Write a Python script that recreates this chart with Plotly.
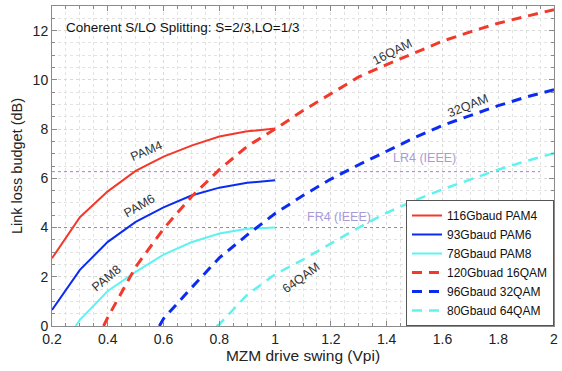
import plotly.graph_objects as go

# ---- data ----
pam4_x = [0.2, 0.3, 0.4, 0.5, 0.6, 0.7, 0.8, 0.9, 1.0]
pam4_y = [2.75, 4.42, 5.47, 6.30, 6.88, 7.33, 7.70, 7.91, 8.02]

pam6_x = [0.2, 0.3, 0.4, 0.5, 0.6, 0.7, 0.8, 0.9, 1.0]
pam6_y = [0.65, 2.28, 3.42, 4.23, 4.82, 5.30, 5.62, 5.82, 5.92]

pam8_x = [0.285, 0.3, 0.4, 0.5, 0.6, 0.7, 0.8, 0.9, 1.0]
pam8_y = [0.0, 0.25, 1.42, 2.20, 2.90, 3.40, 3.76, 3.95, 4.00]

qam16_x = [0.385, 0.4, 0.5, 0.6, 0.7, 0.8, 0.9, 1.0, 1.1, 1.2, 1.3, 1.4, 1.5, 1.6, 1.7, 1.8, 1.9, 2.0]
qam16_y = [0.0, 0.35, 2.40, 3.95, 5.25, 6.35, 7.30, 8.00, 8.75, 9.45, 10.12, 10.62, 11.10, 11.57, 11.95, 12.30, 12.58, 12.85]

qam32_x = [0.585, 0.6, 0.7, 0.8, 0.9, 1.0, 1.1, 1.2, 1.3, 1.4, 1.5, 1.6, 1.7, 1.8, 1.9, 2.0]
qam32_y = [0.0, 0.30, 1.55, 2.77, 3.70, 4.57, 5.30, 5.97, 6.55, 7.10, 7.65, 8.15, 8.56, 8.95, 9.30, 9.60]

qam64_x = [0.79, 0.8, 0.9, 1.0, 1.1, 1.2, 1.3, 1.4, 1.5, 1.6, 1.7, 1.8, 1.9, 2.0]
qam64_y = [0.0, 0.07, 1.27, 2.10, 2.70, 3.35, 4.00, 4.60, 5.10, 5.55, 5.95, 6.35, 6.70, 7.02]

lr4_x = [0.2, 1.95]
lr4_y = [6.27, 6.27]
fr4_x = [0.2, 2.0]
fr4_y = [4.0, 4.0]

RED = "#f2392b"
BLUE = "#0b2cf0"
CYAN = "#5ff3f0"
PURPLE = "#b36ef0"

fig = go.Figure()

fig.add_trace(go.Scatter(x=lr4_x, y=lr4_y, mode="lines", showlegend=False,
                         line=dict(color=PURPLE, width=1, dash="dot"), hoverinfo="skip"))
fig.add_trace(go.Scatter(x=fr4_x, y=fr4_y, mode="lines", showlegend=False,
                         line=dict(color=PURPLE, width=1, dash="dot"), hoverinfo="skip"))

fig.add_trace(go.Scatter(x=pam4_x, y=pam4_y, mode="lines", name="116Gbaud PAM4",
                         line=dict(color=RED, width=2)))
fig.add_trace(go.Scatter(x=pam6_x, y=pam6_y, mode="lines", name="93Gbaud PAM6",
                         line=dict(color=BLUE, width=2)))
fig.add_trace(go.Scatter(x=pam8_x, y=pam8_y, mode="lines", name="78Gbaud PAM8",
                         line=dict(color=CYAN, width=2)))
fig.add_trace(go.Scatter(x=qam16_x, y=qam16_y, mode="lines", name="120Gbuad 16QAM",
                         line=dict(color=RED, width=3, dash="10px,7px")))
fig.add_trace(go.Scatter(x=qam32_x, y=qam32_y, mode="lines", name="96Gbaud 32QAM",
                         line=dict(color=BLUE, width=3, dash="10px,7px")))
fig.add_trace(go.Scatter(x=qam64_x, y=qam64_y, mode="lines", name="80Gbaud 64QAM",
                         line=dict(color=CYAN, width=2.5, dash="10px,7px")))

FONT = "Liberation Sans, Arial, sans-serif"
lab = dict(size=12.5, color="#333333", family=FONT)

annots = [
    dict(x=0.54, y=7.09, text="PAM4", textangle=-23, font=lab),
    dict(x=0.513, y=4.86, text="PAM6", textangle=-30, font=lab),
    dict(x=0.397, y=1.94, text="PAM8", textangle=-40, font=lab),
    dict(x=1.42, y=11.15, text="16QAM", textangle=-27, font=lab),
    dict(x=1.69, y=8.92, text="32QAM", textangle=-22, font=lab),
    dict(x=1.093, y=1.95, text="64QAM", textangle=-36, font=lab),
    dict(x=1.535, y=6.83, text="LR4 (IEEE)", font=dict(size=12.5, color="#a89ad8", family=FONT)),
    dict(x=1.228, y=4.42, text="FR4 (IEEE)", font=dict(size=12.5, color="#a89ad8", family=FONT)),
    dict(x=0.244, y=12.13, text="Coherent S/LO Splitting: S=2/3,LO=1/3", xanchor="left",
         font=dict(size=13.5, color="#111111", family=FONT)),
]
for a in annots:
    a.setdefault("xanchor", "center")
    fig.add_annotation(xref="x", yref="y", showarrow=False, yanchor="middle", **a)

axis_common = dict(
    showline=True, linecolor="#8a8a8a", linewidth=1, mirror="ticks",
    ticks="inside", ticklen=5, tickcolor="#8a8a8a",
    showgrid=True, gridcolor="#d9d9d9", griddash="dot", gridwidth=1,
    zeroline=False, ticklabeloverflow="allow",
    tickfont=dict(size=14, color="#222222", family=FONT),
)

fig.update_xaxes(range=[0.2, 2.0], dtick=0.2, tick0=0.2,
                 title=dict(text="MZM drive swing (Vpi)", font=dict(size=15.5, color="#222222", family=FONT), standoff=2),
                 minor=dict(dtick=0.05, ticks="inside", ticklen=3, tickcolor="#8a8a8a",
                            showgrid=True, gridcolor="#e3e3e3", griddash="dot"),
                 **axis_common)
fig.update_yaxes(range=[0, 13], dtick=2, tick0=0,
                 title=dict(text="Link loss budget (dB)", font=dict(size=14.5, color="#222222", family=FONT), standoff=6),
                 minor=dict(dtick=0.5, ticks="inside", ticklen=3, tickcolor="#8a8a8a",
                            showgrid=True, gridcolor="#e3e3e3", griddash="dot"),
                 **axis_common)

fig.update_layout(
    width=562, height=371,
    margin=dict(l=52, r=4, t=6, b=45),
    plot_bgcolor="white", paper_bgcolor="white",
    font=dict(family=FONT),
    legend=dict(x=1.0, y=0.0, xanchor="right", yanchor="bottom",
                bgcolor="white", bordercolor="#555555", borderwidth=1,
                font=dict(size=12, color="#111111", family=FONT),
                tracegroupgap=0, itemwidth=30),
    showlegend=True,
)

fig.write_html("out.html")
